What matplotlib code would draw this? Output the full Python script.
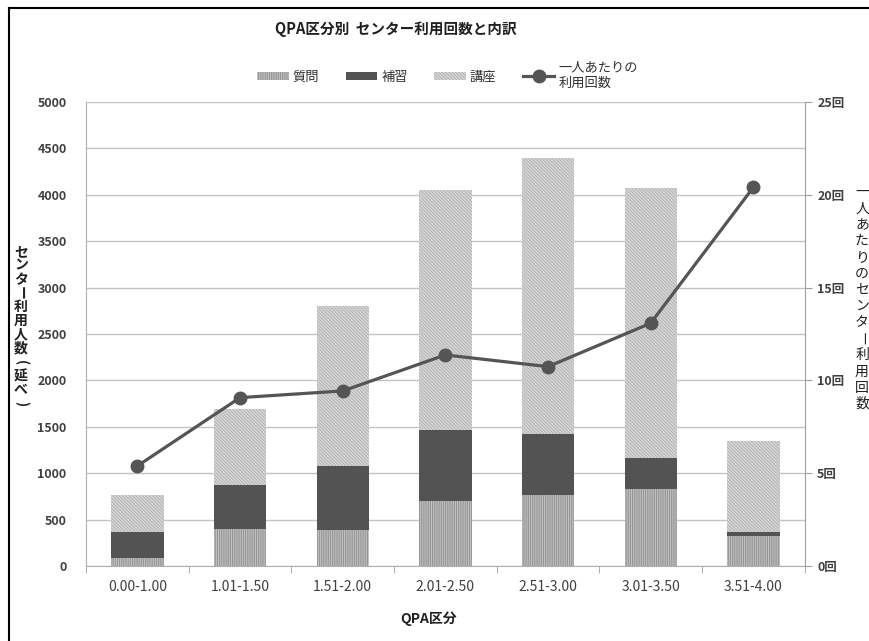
import matplotlib
matplotlib.use("Agg")
import matplotlib.pyplot as plt
import numpy as np

plt.rcParams['font.family'] = ['Noto Sans CJK JP', 'DejaVu Sans']
plt.rcParams['hatch.linewidth'] = 0.6

# QPA区分ごとの利用人数（延べ）と一人あたり利用回数
categories = ['0.00-1.00', '1.01-1.50', '1.51-2.00', '2.01-2.50',
              '2.51-3.00', '3.01-3.50', '3.51-4.00']
shitsumon = [90, 400, 390, 700, 762, 826, 323]
hoshu = [275, 470, 690, 765, 664, 334, 43]
koza = [400, 820, 1720, 2585, 2971, 2917, 984]
per_person = [5.39, 9.07, 9.43, 11.37, 10.74, 13.08, 20.40]

left_ticks = [0, 500, 1000, 1500, 2000, 2500, 3000, 3500, 4000, 4500, 5000]
right_ticks = [0, 5, 10, 15, 20, 25]

grey = '#404040'
x = np.arange(len(categories))

fig = plt.figure(figsize=(8.69, 6.41), dpi=100)
ax = fig.add_axes([0.099, 0.117, 0.827, 0.724])

b1 = ax.bar(x, shitsumon, 0.51, color='#c4c4c4', edgecolor='#8c8c8c',
            linewidth=0, hatch='|||||||||', label='質問', zorder=2)
b2 = ax.bar(x, hoshu, 0.51, bottom=shitsumon, color='#535353',
            linewidth=0, label='補習', zorder=2)
bottom2 = np.array(shitsumon) + np.array(hoshu)
b3 = ax.bar(x, koza, 0.51, bottom=bottom2, color='#d6d6d6', edgecolor='#b0b0b0',
            linewidth=0, hatch='\\' * 10, label='講座', zorder=2)

ax.set_xlim(-0.5, len(categories) - 0.5)
ax.set_ylim(0, 5000)
ax.set_yticks(left_ticks)
ax.set_yticklabels([str(t) for t in left_ticks], fontweight='bold', fontsize=9, color=grey)
ax.set_xticks(x)
ax.set_xticklabels(categories, fontsize=10, color=grey)
ax.tick_params(axis='x', length=0, pad=10)
ax.tick_params(axis='y', length=0, pad=14)
ax.set_xticks(np.arange(-0.5, len(categories)), minor=True)
ax.tick_params(axis='x', which='minor', length=5, color='#a0a0a0', direction='out')
ax.grid(axis='y', color='#c4c4c4', linewidth=1, zorder=0)
ax.set_axisbelow(True)
for s in ['top', 'right']:
    ax.spines[s].set_visible(False)
ax.spines['left'].set_color('#b0b0b0')
ax.spines['bottom'].set_color('#b0b0b0')

ax2 = ax.twinx()
line, = ax2.plot(x, per_person, color='#555555', linewidth=2.3, marker='o',
                 markersize=9, label='一人あたりの\n利用回数', zorder=3)
ax2.set_ylim(0, 25)
ax2.set_yticks(right_ticks)
ax2.set_yticklabels([f'{t}回' for t in right_ticks], fontweight='bold', fontsize=9, color=grey)
ax2.tick_params(axis='y', length=5, color='#a0a0a0', pad=4)
for s in ['top', 'left', 'bottom']:
    ax2.spines[s].set_visible(False)
ax2.spines['right'].set_color('#a0a0a0')


def vertical_text(text, xpos, ytop, step, **kw):
    # 縦書き: 一文字ずつ配置し、長音と括弧は90度回転
    for i, ch in enumerate(text):
        rot = -90 if ch in 'ー()' else 0
        fig.text(xpos, ytop - i * step, ch, ha='center', va='center',
                 rotation=rot, **kw)


vertical_text('センター利用人数(延べ)', 21 / 869, 1 - 252 / 641, 13.8 / 641,
              fontsize=10, fontweight='bold', color='#202020')
vertical_text('一人あたりのセンター利用回数', 862 / 869, 1 - 192 / 641, 16.3 / 641,
              fontsize=10, color='#202020')

fig.text(0.455, 0.955, 'QPA区分別  センター利用回数と内訳', ha='center', va='center',
         fontsize=10.5, fontweight='bold', color='#202020')
fig.text(0.493, 0.035, 'QPA区分', ha='center', va='center',
         fontsize=10, fontweight='bold', color='#202020')

fig.legend(handles=[b1, b2, b3, line], loc='center', bbox_to_anchor=(0.515, 0.882),
           ncol=4, frameon=False, fontsize=9.5, handlelength=2.4, handleheight=0.6,
           columnspacing=2.0, handletextpad=0.3, labelcolor='#303030')

# 外枠
fig.add_artist(plt.Line2D([0.0105, 0.0105], [0.0, 0.987], color='black', linewidth=1.5))
fig.add_artist(plt.Line2D([0.0105, 1.0], [0.987, 0.987], color='black', linewidth=1.5))

fig.savefig('out.png', dpi=100)
